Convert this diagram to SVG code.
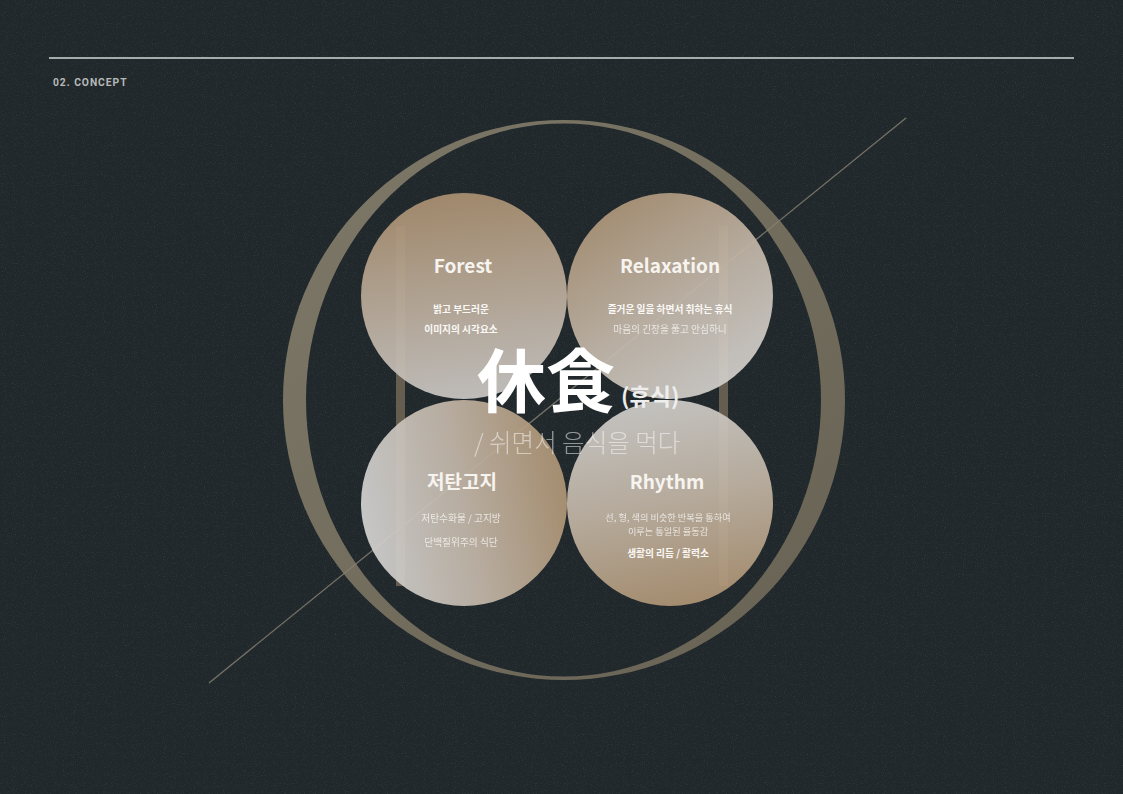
<svg xmlns="http://www.w3.org/2000/svg" width="1123" height="794" viewBox="0 0 1123 794">
  <style>
    .kr { font-family: "Noto Sans CJK KR", "Noto Sans", sans-serif; }
    .title { font-size: 19px; font-weight: 700; fill: #f7f4f0; text-anchor: middle; }
    .sb { font-size: 9.7px; font-weight: 700; fill: #fbf9f6; text-anchor: middle; }
    .sr { font-size: 9.7px; font-weight: 400; fill: #f3f1ee; text-anchor: middle; opacity: 0.85; }
    .sm { font-size: 9.2px; }
  </style>
  <defs>
    <filter id="noise" x="0" y="0" width="100%" height="100%">
      <feTurbulence type="fractalNoise" baseFrequency="0.9" numOctaves="2" seed="3" result="n"/>
      <feColorMatrix type="matrix" values="0 0 0 0 0.6  0 0 0 0 0.65  0 0 0 0 0.65  0 0 0 1.4 -0.75"/>
    </filter>
    <linearGradient id="ringG" x1="0" y1="0" x2="1" y2="1">
      <stop offset="0" stop-color="#7e7868"/>
      <stop offset="1" stop-color="#686254"/>
    </linearGradient>
    <linearGradient id="gForest" x1="0.5" y1="0" x2="0.6" y2="1">
      <stop offset="0" stop-color="#a98f70"/>
      <stop offset="0.55" stop-color="#bcae9e"/>
      <stop offset="1" stop-color="#cac7c4"/>
    </linearGradient>
    <linearGradient id="gRelax" x1="0.2" y1="0" x2="0.8" y2="1">
      <stop offset="0" stop-color="#ab9274"/>
      <stop offset="0.55" stop-color="#c3b8ab"/>
      <stop offset="1" stop-color="#d3d2d0"/>
    </linearGradient>
    <linearGradient id="gLow" x1="0" y1="0.6" x2="1" y2="0.4">
      <stop offset="0" stop-color="#d2d2d2"/>
      <stop offset="0.5" stop-color="#c2b6a8"/>
      <stop offset="1" stop-color="#ae9474"/>
    </linearGradient>
    <linearGradient id="gRhythm" x1="0.4" y1="0" x2="0.6" y2="1">
      <stop offset="0" stop-color="#cfcdca"/>
      <stop offset="0.5" stop-color="#c0b3a3"/>
      <stop offset="1" stop-color="#ad9373"/>
    </linearGradient>
  </defs>

  <!-- background -->
  <rect width="1123" height="794" fill="#21282b"/>
  <rect width="1123" height="794" filter="url(#noise)" opacity="0.2"/>

  <!-- header -->
  <g id="header">
    <line x1="49" y1="58" x2="1074" y2="58" stroke="#a6aca9" stroke-width="2"/>
    <text x="53" y="86" font-family="Roboto, 'Liberation Sans', sans-serif" font-size="10.3" font-weight="700" letter-spacing="0.95" fill="#b6bab9">02. CONCEPT</text>
  </g>

  <!-- decorations -->
  <g id="decor">
    <path d="M283,400 a281,280 0 1,0 562,0 a281,280 0 1,0 -562,0 Z M306,400 a257.5,276.5 0 1,0 515,0 a257.5,276.5 0 1,0 -515,0 Z" fill="url(#ringG)" fill-rule="evenodd"/>
    <rect x="396" y="226" width="9" height="360" fill="#645d50"/>
    <rect x="719" y="226" width="9" height="360" fill="#645d50"/>
  </g>

  <g id="connectors">
    <line x1="209" y1="683" x2="906" y2="118" stroke="#8a8475" stroke-width="1.3" opacity="0.8"/>
  </g>

  <!-- nodes -->
  <g id="node-forest">
    <circle cx="464" cy="296" r="103" fill="url(#gForest)" opacity="0.93"/>
    <text class="kr title" x="463" y="273">Forest</text>
    <text class="kr sb" x="461" y="313">밝고 부드러운</text>
    <text class="kr sb" x="461" y="333">이미지의 시각요소</text>
  </g>
  <g id="node-relaxation">
    <circle cx="670" cy="296" r="103" fill="url(#gRelax)" opacity="0.93"/>
    <text class="kr title" x="670" y="273">Relaxation</text>
    <text class="kr sb" x="670" y="313">즐거운 일을 하면서 취하는  휴식</text>
    <text class="kr sr" x="670" y="333">마음의 긴장을 풀고 안심하니</text>
  </g>
  <g id="node-lowcarb">
    <circle cx="464" cy="503" r="103" fill="url(#gLow)" opacity="0.93"/>
    <text class="kr title" x="462" y="489">저탄고지</text>
    <text class="kr sr" x="461" y="522">저탄수화물 / 고지방</text>
    <text class="kr sr" x="461" y="546">단백질위주의 식단</text>
  </g>
  <g id="node-rhythm">
    <circle cx="670" cy="503" r="103" fill="url(#gRhythm)" opacity="0.93"/>
    <text class="kr title" x="667" y="489">Rhythm</text>
    <text class="kr sr sm" x="668" y="521">선, 형, 색의 비슷한 반복을 통하여</text>
    <text class="kr sr sm" x="668" y="534.5">이루는 통일된 율동감</text>
    <text class="kr sb" x="668" y="557">생활의 리듬 /  활력소</text>
  </g>

  <!-- center -->
  <g id="node-center">
    <text class="kr" x="477" y="407" font-size="69" font-weight="700" fill="#ffffff">休食</text>
    <text class="kr" x="621" y="405" font-size="22.5" font-weight="700" fill="#eeeeee">(휴식)</text>
    <text class="kr" x="474" y="452" font-size="24.5" font-weight="300" fill="#ffffff" opacity="0.5">/ 쉬면서 음식을 먹다</text>
  </g>
</svg>
